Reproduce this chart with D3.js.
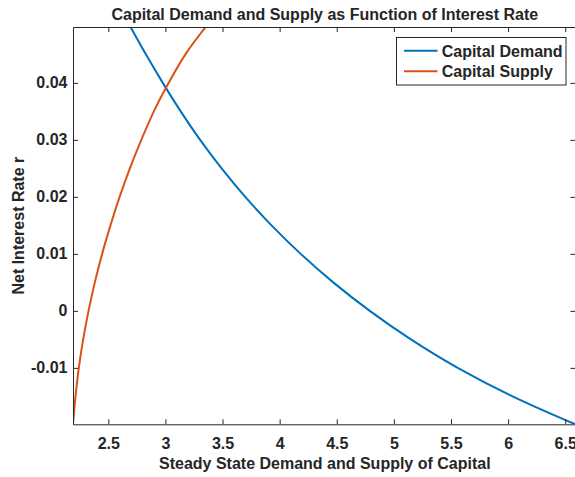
<!DOCTYPE html>
<html>
<head>
<meta charset="utf-8">
<script src="https://cdn.jsdelivr.net/npm/d3@7"></script>
<style>
  html, body { margin: 0; padding: 0; background: #fff; }
  svg { display: block; }
  text { font-family: "Liberation Sans", Arial, Helvetica, sans-serif; font-weight: bold; fill: #262626; }
</style>
</head>
<body>
<svg id="chart" width="575" height="477"></svg>
<script>
// ---- data ----
const titleText = "Capital Demand and Supply as Function of Interest Rate";
const xLabelText = "Steady State Demand and Supply of Capital";
const yLabelText = "Net Interest Rate r";
const seriesNames = ["Capital Demand", "Capital Supply"];

// Capital demand: interest rate r and capital K
const demandR = [0.0498, 0.045, 0.040, 0.035, 0.030, 0.025, 0.020, 0.015, 0.010, 0.005, 0.000, -0.005, -0.010, -0.015, -0.0199];
const demandK = [2.695, 2.829, 2.977, 3.134, 3.304, 3.492, 3.699, 3.929, 4.184, 4.469, 4.789, 5.149, 5.559, 6.039, 6.588];

// Capital supply: interest rate r and capital K
const supplyR = [-0.0199, -0.015, -0.010, -0.005, 0.000, 0.005, 0.010, 0.015, 0.020, 0.025, 0.030, 0.035, 0.039, 0.045, 0.0498];
const supplyK = [2.191, 2.213, 2.242, 2.280, 2.327, 2.382, 2.446, 2.519, 2.599, 2.689, 2.789, 2.899, 3.001, 3.175, 3.353];

const xTicks = [2.5, 3, 3.5, 4, 4.5, 5, 5.5, 6, 6.5];
const xTickLabels = ["2.5", "3", "3.5", "4", "4.5", "5", "5.5", "6", "6.5"];
const yTicks = [-0.01, 0, 0.01, 0.02, 0.03, 0.04];
const yTickLabels = ["-0.01", "0", "0.01", "0.02", "0.03", "0.04"];

const xDomain = [2.191, 6.59];
const yDomain = [-0.0199, 0.0498];

// ---- layout ----
const colors = ["#0072BD", "#D95319"];
const axisColor = "#262626";
const plot = { left: 73, right: 575.5, top: 27, bottom: 424.3 };
const fontSize = 16;

const svg = d3.select("#chart");
const x = d3.scaleLinear().domain(xDomain).range([plot.left, plot.right]);
const y = d3.scaleLinear().domain(yDomain).range([plot.bottom, plot.top]);

svg.append("defs").append("clipPath").attr("id", "clip")
  .append("rect")
  .attr("x", plot.left).attr("y", plot.top)
  .attr("width", plot.right - plot.left).attr("height", plot.bottom - plot.top);

// lines
const demand = demandR.map((r, i) => ({ r, k: demandK[i] }));
const supply = supplyR.map((r, i) => ({ r, k: supplyK[i] }));
const line = d3.line().x(d => x(d.k)).y(d => y(d.r)).curve(d3.curveCatmullRom.alpha(0.5));

const g = svg.append("g").attr("clip-path", "url(#clip)");
[demand, supply].forEach((data, i) => {
  g.append("path").datum(data)
    .attr("d", line)
    .attr("fill", "none")
    .attr("stroke", colors[i])
    .attr("stroke-width", 2);
});

// axes (MATLAB-like box, inward ticks on all sides)
const tickLen = 5;
const axes = svg.append("g");
const bottomAxis = d3.axisBottom(x).tickValues(xTicks).tickSizeInner(-tickLen).tickSizeOuter(0)
  .tickFormat((d, i) => xTickLabels[i]).tickPadding(13);
const topAxis = d3.axisTop(x).tickValues(xTicks).tickSizeInner(-tickLen).tickSizeOuter(0).tickFormat("");
const leftAxis = d3.axisLeft(y).tickValues(yTicks).tickSizeInner(-tickLen).tickSizeOuter(0)
  .tickFormat((d, i) => yTickLabels[i]).tickPadding(5.5);
const rightAxis = d3.axisRight(y).tickValues(yTicks).tickSizeInner(-tickLen).tickSizeOuter(0).tickFormat("");

const styleAxis = sel => {
  sel.selectAll("path.domain").attr("stroke", axisColor).attr("stroke-width", 1);
  sel.selectAll(".tick line").attr("stroke", axisColor).attr("stroke-width", 1);
  sel.selectAll(".tick text")
    .attr("fill", axisColor)
    .style("font-size", fontSize + "px")
    .style("font-weight", "bold")
    .style("font-family", '"Liberation Sans", Arial, Helvetica, sans-serif');
};

axes.append("g").attr("transform", `translate(0,${plot.bottom})`).call(bottomAxis).call(styleAxis);
axes.append("g").attr("transform", `translate(0,${plot.top})`).call(topAxis).call(styleAxis);
axes.append("g").attr("transform", `translate(${plot.left},0)`).call(leftAxis).call(styleAxis);
axes.append("g").attr("transform", `translate(${plot.right},0)`).call(rightAxis).call(styleAxis);

// title & labels
svg.append("text").attr("x", 324.8).attr("y", 19.5)
  .attr("text-anchor", "middle").style("font-size", fontSize + "px").text(titleText);
svg.append("text").attr("x", 324.8).attr("y", 469.3)
  .attr("text-anchor", "middle").style("font-size", fontSize + "px").text(xLabelText);
svg.append("text")
  .attr("transform", `translate(24,${(plot.top + plot.bottom) / 2}) rotate(-90)`)
  .attr("text-anchor", "middle").style("font-size", fontSize + "px").text(yLabelText);

// legend
const legend = svg.append("g");
legend.append("rect")
  .attr("x", 396.5).attr("y", 37.5).attr("width", 169.5).attr("height", 47.5)
  .attr("fill", "#fff").attr("stroke", axisColor).attr("stroke-width", 1);
seriesNames.forEach((name, i) => {
  const cy = 50.7 + i * 20.5;
  legend.append("line")
    .attr("x1", 404).attr("x2", 437.5).attr("y1", cy).attr("y2", cy)
    .attr("stroke", colors[i]).attr("stroke-width", 2);
  legend.append("text").attr("x", 441.7).attr("y", cy + 5.8)
    .style("font-size", fontSize + "px").text(name);
});
</script>
</body>
</html>
